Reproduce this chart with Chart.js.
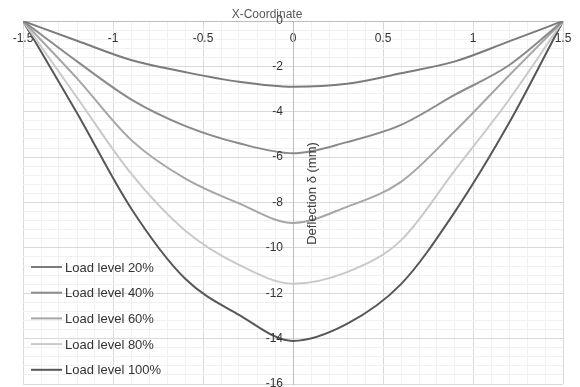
<!DOCTYPE html>
<html>
<head>
<meta charset="utf-8">
<script src="https://cdn.jsdelivr.net/npm/chart.js@4/dist/chart.umd.min.js"></script>
<style>
  html, body { margin: 0; padding: 0; background: #ffffff; }
  canvas { display: block; }
</style>
</head>
<body>
<canvas id="chart" width="580" height="387"></canvas>
<script>
// Beam deflection along the span for five load levels
const xCoords = [-1.5, -1.2, -0.9, -0.6, -0.3, 0, 0.3, 0.6, 0.9, 1.2, 1.5];
const load20  = [0, -0.87, -1.72, -2.25, -2.68, -2.90, -2.77, -2.30, -1.78, -0.90, 0];
const load40  = [0, -1.78, -3.45, -4.62, -5.39, -5.83, -5.34, -4.58, -3.25, -1.95, 0];
const load60  = [0, -2.53, -5.24, -6.94, -8.04, -8.90, -8.19, -7.09, -4.85, -2.40, 0];
const load80  = [0, -3.37, -6.72, -9.23, -10.75, -11.58, -11.07, -9.67, -6.57, -3.47, 0];
const load100 = [0, -4.05, -8.25, -11.35, -12.95, -14.10, -13.35, -11.60, -8.40, -4.50, 0];

const seriesNames = ['Load level 20%', 'Load level 40%', 'Load level 60%', 'Load level 80%', 'Load level 100%'];
const seriesValues = [load20, load40, load60, load80, load100];
const seriesColors = ['#7b7b7b', '#8a8a8a', '#a6a6a6', '#c9c9c9', '#575757'];

const xTickLabels = ['-1.5', '-1', '-0.5', '0', '0.5', '1', '1.5'];
const yTickLabels = ['0', '-2', '-4', '-6', '-8', '-10', '-12', '-14', '-16'];
const xTitle = 'X-Coordinate';
const yTitle = 'Deflection \u03b4 (mm)';

const FONT = '"Liberation Sans", Arial, sans-serif';

const isMultiple = (v, step) => Math.abs(v / step - Math.round(v / step)) < 1e-6;
const fmt = v => String(Math.round(v * 10) / 10);

const datasets = seriesValues.map((vals, i) => ({
  label: seriesNames[i],
  data: xCoords.map((x, j) => ({ x: x, y: vals[j] })),
  borderColor: seriesColors[i],
  backgroundColor: seriesColors[i],
  borderWidth: 2,
  pointRadius: 0,
  cubicInterpolationMode: 'monotone',
  fill: false
}));

// Value labels of the vertical axis, set to the left of the centre line
const yAxisLabels = {
  id: 'yAxisLabels',
  afterDatasetsDraw(chart) {
    const { ctx, scales } = chart;
    const x0 = scales.x.getPixelForValue(0);
    ctx.save();
    ctx.fillStyle = '#333333';
    ctx.font = '12px ' + FONT;
    ctx.textAlign = 'right';
    ctx.textBaseline = 'middle';
    yTickLabels.forEach(t => {
      ctx.fillText(t, x0 - 10, scales.y.getPixelForValue(Number(t)));
    });
    ctx.restore();
  }
};

// Axis titles placed the way the spreadsheet draws them
const axisTitles = {
  id: 'axisTitles',
  afterDraw(chart) {
    const { ctx, chartArea, scales } = chart;
    const x0 = scales.x.getPixelForValue(0);
    ctx.save();
    ctx.fillStyle = '#595959';
    ctx.font = '12px ' + FONT;
    ctx.textAlign = 'center';
    ctx.textBaseline = 'middle';
    ctx.fillText(xTitle, x0 - 26, chartArea.top - 6);
    ctx.translate(x0 + 19, (chartArea.top + chartArea.bottom) / 2 - 9);
    ctx.rotate(-Math.PI / 2);
    ctx.fillStyle = '#404040';
    ctx.font = '13px ' + FONT;
    ctx.fillText(yTitle, 0, 0);
    ctx.restore();
  }
};

// Legend inside the plot, lower left
const innerLegend = {
  id: 'innerLegend',
  afterDatasetsDraw(chart) {
    const { ctx, chartArea } = chart;
    const left = chartArea.left + 8;
    const rowH = 25.7;
    const top = chartArea.bottom - 117;
    ctx.save();
    ctx.font = '13px ' + FONT;
    ctx.textAlign = 'left';
    ctx.textBaseline = 'middle';
    chart.data.datasets.forEach((ds, i) => {
      const y = top + i * rowH;
      ctx.strokeStyle = ds.borderColor;
      ctx.lineWidth = 2;
      ctx.beginPath();
      ctx.moveTo(left, y);
      ctx.lineTo(left + 31, y);
      ctx.stroke();
      ctx.fillStyle = '#333333';
      ctx.fillText(ds.label, left + 34, y + 1);
    });
    ctx.restore();
  }
};

new Chart(document.getElementById('chart'), {
  type: 'line',
  data: { datasets: datasets },
  options: {
    responsive: false,
    animation: false,
    layout: { padding: { left: 23, right: 17, top: 21, bottom: 3 } },
    plugins: { legend: { display: false }, tooltip: { enabled: false } },
    scales: {
      x: {
        type: 'linear',
        position: { y: 0 },
        min: -1.5,
        max: 1.5,
        afterFit(scale) { scale.paddingLeft = 0; scale.paddingRight = 0; },
        border: { color: '#bdbdbd', width: 1 },
        grid: {
          drawTicks: false,
          color: c => isMultiple(c.tick.value, 0.5) ? '#d9d9d9' : '#f1f1f1',
          lineWidth: 1
        },
        ticks: {
          stepSize: 0.1,
          autoSkip: false,
          maxRotation: 0,
          padding: 10,
          color: '#333333',
          font: { family: FONT, size: 12 },
          callback: v => (isMultiple(v, 0.5) && xTickLabels.includes(fmt(v))) ? fmt(v) : ''
        }
      },
      y: {
        type: 'linear',
        position: { x: 0 },
        min: -16,
        max: 0,
        afterFit(scale) { scale.paddingTop = 0; scale.paddingBottom = 0; },
        border: { color: '#bdbdbd', width: 1 },
        grid: {
          drawTicks: false,
          color: c => isMultiple(c.tick.value, 2) ? '#d9d9d9' : '#f1f1f1',
          lineWidth: 1
        },
        ticks: {
          stepSize: 0.4,
          autoSkip: false,
          display: false
        }
      }
    }
  },
  plugins: [yAxisLabels, axisTitles, innerLegend]
});
</script>
</body>
</html>
